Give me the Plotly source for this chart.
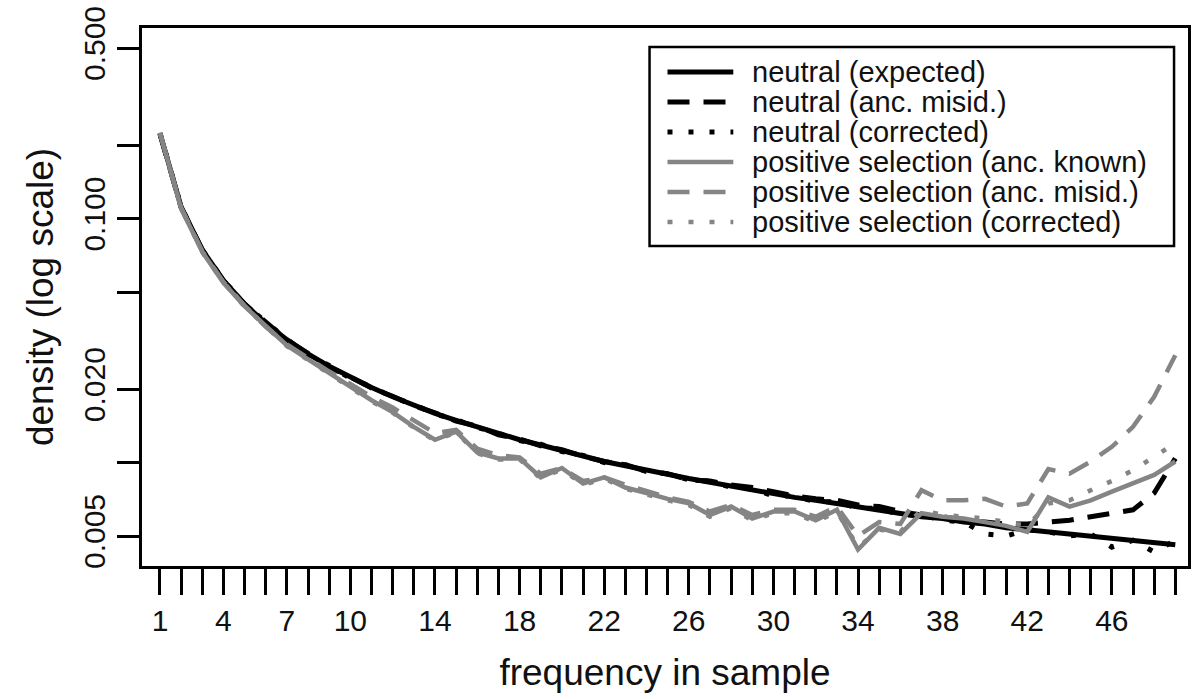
import plotly.graph_objects as go

freq = list(range(1, 50))

neutral_expected = [0.2233, 0.1116, 0.0744, 0.0558, 0.0447, 0.0372, 0.0319, 0.0279, 0.0248, 0.0223,
                    0.0203, 0.0186, 0.0172, 0.0159, 0.0149, 0.0140, 0.0131, 0.0124, 0.0118, 0.0112,
                    0.0106, 0.0101, 0.0097, 0.0093, 0.0089, 0.0086, 0.0083, 0.0080, 0.0077, 0.0074,
                    0.0072, 0.0070, 0.0068, 0.0066, 0.0064, 0.0062, 0.0060, 0.0059, 0.0057, 0.0056,
                    0.0054, 0.0053, 0.0052, 0.0051, 0.0050, 0.0049, 0.0048, 0.0047, 0.0046]

neutral_misid = [0.2220, 0.1110, 0.0745, 0.0556, 0.0446, 0.0374, 0.0318, 0.0280, 0.0246, 0.0224,
                 0.0202, 0.0187, 0.0171, 0.0160, 0.0148, 0.0141, 0.0130, 0.0125, 0.0117, 0.0113,
                 0.0106, 0.0101, 0.0098, 0.0092, 0.0090, 0.0085, 0.0084, 0.0081, 0.0079, 0.0076,
                 0.0073, 0.0071, 0.0070, 0.0067, 0.0066, 0.0063, 0.0061, 0.0060, 0.0058, 0.0057,
                 0.0056, 0.0056, 0.0057, 0.0058, 0.0060, 0.0062, 0.0064, 0.0075, 0.0104]

neutral_corrected = [0.2240, 0.1120, 0.0740, 0.0560, 0.0445, 0.0375, 0.0320, 0.0277, 0.0250, 0.0221,
                     0.0205, 0.0185, 0.0173, 0.0158, 0.0150, 0.0139, 0.0132, 0.0123, 0.0119, 0.0111,
                     0.0107, 0.0100, 0.0098, 0.0092, 0.0090, 0.0085, 0.0084, 0.0079, 0.0078, 0.0073,
                     0.0073, 0.0069, 0.0069, 0.0065, 0.0065, 0.0061, 0.0061, 0.0058, 0.0057, 0.0051,
                     0.0050, 0.0053, 0.0052, 0.0050, 0.0051, 0.0045, 0.0048, 0.0043, 0.0048]

pos_known = [0.2250, 0.1100, 0.0730, 0.0545, 0.0437, 0.0362, 0.0302, 0.0265, 0.0233, 0.0205,
             0.0180, 0.0161, 0.0140, 0.0124, 0.0134, 0.0110, 0.0104, 0.0104, 0.0087, 0.0095,
             0.0082, 0.0087, 0.0079, 0.0075, 0.0071, 0.0068, 0.0061, 0.0066, 0.0059, 0.0063,
             0.0063, 0.0058, 0.0064, 0.0044, 0.0054, 0.0051, 0.0062, 0.0060, 0.0059, 0.0057,
             0.0055, 0.0052, 0.0072, 0.0066, 0.0070, 0.0076, 0.0082, 0.0089, 0.0101]

pos_misid = [0.2230, 0.1110, 0.0735, 0.0550, 0.0440, 0.0360, 0.0305, 0.0268, 0.0236, 0.0210,
             0.0186, 0.0168, 0.0148, 0.0132, 0.0136, 0.0114, 0.0107, 0.0105, 0.0090, 0.0095,
             0.0084, 0.0087, 0.0081, 0.0076, 0.0072, 0.0069, 0.0063, 0.0067, 0.0061, 0.0064,
             0.0064, 0.0060, 0.0066, 0.0050, 0.0057, 0.0056, 0.0077, 0.0070, 0.0070, 0.0071,
             0.0066, 0.0068, 0.0094, 0.0090, 0.0101, 0.0116, 0.0140, 0.0186, 0.0275]

pos_corrected = [0.2240, 0.1105, 0.0728, 0.0548, 0.0436, 0.0361, 0.0300, 0.0263, 0.0231, 0.0204,
                 0.0178, 0.0160, 0.0139, 0.0123, 0.0133, 0.0109, 0.0103, 0.0103, 0.0086, 0.0094,
                 0.0081, 0.0086, 0.0078, 0.0074, 0.0070, 0.0067, 0.0060, 0.0065, 0.0058, 0.0062,
                 0.0062, 0.0057, 0.0063, 0.0045, 0.0053, 0.0052, 0.0064, 0.0061, 0.0060, 0.0059,
                 0.0057, 0.0055, 0.0068, 0.0070, 0.0077, 0.0084, 0.0093, 0.0106, 0.0120]

x_labels = [1, 4, 7, 10, 14, 18, 22, 26, 30, 34, 38, 42, 46]
y_ticks = [0.005, 0.01, 0.02, 0.05, 0.1, 0.2, 0.5]
y_labels = ["0.005", "", "0.020", "", "0.100", "", "0.500"]

series_names = ["neutral (expected)", "neutral (anc. misid.)", "neutral (corrected)",
                "positive selection (anc. known)", "positive selection (anc. misid.)",
                "positive selection (corrected)"]
series_values = [neutral_expected, neutral_misid, neutral_corrected,
                 pos_known, pos_misid, pos_corrected]

BLACK = "#000000"
GRAY = "#858585"
styles = [
    dict(color=BLACK, width=5, dash="solid"),
    dict(color=BLACK, width=5, dash="22px,14px"),
    dict(color=BLACK, width=5, dash="5px,16px"),
    dict(color=GRAY, width=4.5, dash="solid"),
    dict(color=GRAY, width=4.5, dash="22px,14px"),
    dict(color=GRAY, width=4.5, dash="5px,16px"),
]

FONT = "Liberation Sans, Arial, Helvetica, sans-serif"

fig = go.Figure()
for name, vals, st in zip(series_names, series_values, styles):
    fig.add_trace(go.Scatter(x=freq, y=vals, mode="lines", name=name, line=st,
                             showlegend=False))

# plot area in pixels
L, R, T, B = 142, 1191, 28, 566
W, H = 1197, 699

def px(xp):
    return (xp - L) / (R - L)

def py(yp):
    return (B - yp) / (B - T)

shapes = []
annotations = []
# legend box
shapes.append(dict(type="rect", xref="paper", yref="paper",
                   x0=px(651), x1=px(1177), y0=py(246), y1=py(47),
                   line=dict(color=BLACK, width=2.5), fillcolor="white", layer="above"))
row_y = [72, 102, 132, 162, 192, 222]
for name, st, ry in zip(series_names, styles, row_y):
    shapes.append(dict(type="line", xref="paper", yref="paper",
                       x0=px(669), x1=px(735), y0=py(ry), y1=py(ry),
                       line=dict(color=st["color"], width=st["width"], dash=st["dash"]),
                       layer="above"))
    annotations.append(dict(xref="paper", yref="paper", x=px(752), y=py(ry),
                            xanchor="left", yanchor="middle", showarrow=False,
                            text=name, font=dict(family=FONT, size=29, color="#111")))

fig.update_layout(
    width=W, height=H,
    margin=dict(l=L, r=W - R, t=T, b=H - B),
    paper_bgcolor="white", plot_bgcolor="white",
    font=dict(family=FONT, color="#111"),
    shapes=shapes, annotations=annotations,
    showlegend=False,
    xaxis=dict(
        range=[0.15, 49.6], tickmode="array", tickvals=freq,
        ticktext=[str(v) if v in x_labels else "" for v in freq],
        ticks="outside", ticklen=26, tickwidth=2.5, tickcolor=BLACK,
        showline=True, linecolor=BLACK, linewidth=2.5, mirror=True,
        showgrid=False, zeroline=False,
        tickfont=dict(family=FONT, size=30, color="#111"),
        title=dict(text="frequency in sample", font=dict(family=FONT, size=37, color="#111"),
                   standoff=24),
    ),
    yaxis=dict(
        type="log", range=[-2.424, -0.219], tickmode="array",
        tickvals=y_ticks, ticktext=y_labels, tickangle=-90,
        ticks="outside", ticklen=22, tickwidth=2.5, tickcolor=BLACK,
        showline=True, linecolor=BLACK, linewidth=2.5, mirror=True,
        showgrid=False, zeroline=False,
        tickfont=dict(family=FONT, size=30, color="#111"),
        title=dict(text="density (log scale)", font=dict(family=FONT, size=37, color="#111"),
                   standoff=14),
    ),
)

fig.write_html("out.html")
